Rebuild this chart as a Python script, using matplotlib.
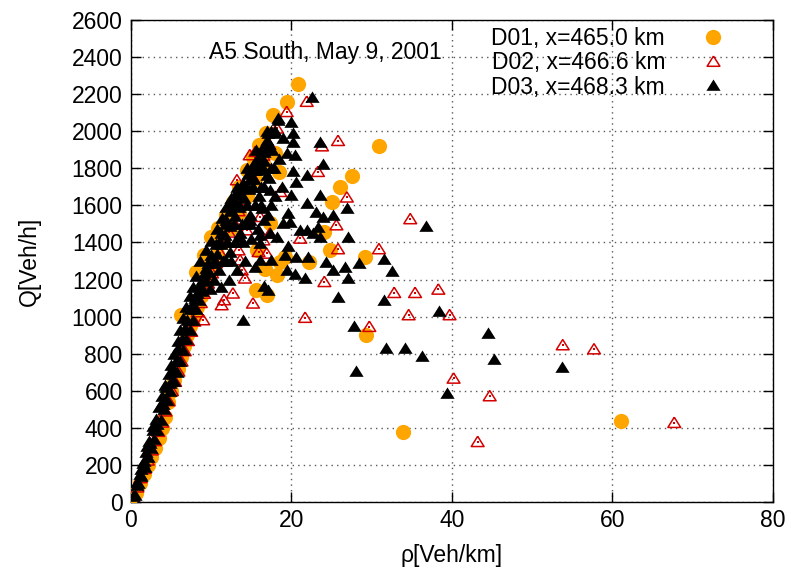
import matplotlib
matplotlib.use("Agg")
from matplotlib import pyplot as plt
from matplotlib.lines import Line2D

plt.rcParams["font.family"] = ["Liberation Sans", "DejaVu Sans"]

# D01, x=465.0 km  (orange circles)
d01_rho = [0.0, 0.6, 1.1, 1.6, 2.1, 2.5, 3.0, 3.5, 3.9, 4.2, 4.6, 5.0, 5.4, 5.8, 6.2, 6.6,
           7.0, 7.4, 7.8, 8.2, 8.7, 9.2, 9.7, 10.2, 10.7,
           6.2, 8.1, 9.1, 10.0, 10.8, 11.8, 12.7, 13.5, 14.4, 15.2, 15.9, 16.8, 17.7, 19.4, 20.8,
           11.5, 12.5, 13.5, 14.5, 15.5, 16.5, 18.0,
           18.4, 17.3, 15.7, 19.2, 18.6, 22.2, 16.7, 18.2, 15.6, 16.9, 24.0, 24.8, 29.2, 25.0,
           26.1, 27.6, 30.9, 29.3, 33.9, 61.1]
d01_q = [25, 50, 100, 150, 200, 244, 290, 343, 400, 460, 541, 600, 660, 720, 780, 840,
         900, 950, 1000, 1050, 1110, 1170, 1230, 1290, 1340,
         1010, 1240, 1330, 1430, 1480, 1550, 1620, 1700, 1790, 1860, 1926, 1989, 2088, 2160, 2255,
         1400, 1480, 1560, 1650, 1740, 1830, 1880,
         1782, 1503, 1359, 1323, 1296, 1296, 1255, 1224, 1143, 1116, 1458, 1359, 1323, 1620,
         1701, 1758, 1920, 901, 379, 439]

# D02, x=466.6 km  (open red triangles)
d02_rho = [0.3, 0.8, 1.2, 1.7, 2.1, 2.6, 3.0, 3.4, 3.9, 4.3, 4.7, 5.1, 5.5, 5.9, 6.3, 6.7,
           7.1, 7.5, 7.9, 8.3, 8.7, 9.1, 9.6, 10.1, 10.6, 11.1, 11.6, 12.2, 12.8, 13.4, 14.0,
           14.6, 15.2, 15.8, 16.5, 17.2,
           21.9, 19.4, 18.2, 25.8, 23.8, 15.5, 14.8, 13.2, 23.3, 18.6, 26.9, 16.1, 25.6, 34.8,
           17.3, 14.4, 16.5, 21.1, 16.9, 15.9, 13.4, 25.8, 30.9, 13.6, 13.8, 14.2, 24.1, 32.8,
           35.4, 38.3, 12.7, 11.6, 11.3, 15.2, 9.0, 21.7, 34.6, 39.7, 29.7, 40.2, 44.7, 43.2,
           53.8, 57.7, 67.7]
d02_q = [20, 80, 130, 180, 225, 280, 330, 380, 430, 490, 545, 600, 650, 705, 760, 815,
         870, 920, 975, 1025, 1075, 1125, 1180, 1235, 1290, 1345, 1400, 1455, 1510, 1570, 1630,
         1690, 1750, 1810, 1870, 1930,
         2160, 2105, 2016, 1949, 1920, 1890, 1872, 1737, 1782, 1674, 1644, 1539, 1494, 1527,
         1449, 1467, 1413, 1422, 1341, 1350, 1359, 1365, 1365, 1305, 1251, 1207, 1188, 1129,
         1129, 1147, 1126, 1090, 1063, 1072, 982, 995, 1009, 1009, 946, 667, 572, 325,
         847, 825, 428]

# D03, x=468.3 km  (filled black triangles)
d03_rho = [0.3, 0.7, 1.1, 1.5, 1.9, 2.3, 2.7, 3.1, 3.5, 3.9, 4.3, 4.7, 5.0, 5.4, 5.8, 6.1,
           6.5, 6.9, 7.3, 7.7, 8.1, 8.6, 9.3, 10.0, 10.7, 11.3, 11.9, 12.5, 13.2, 14.0, 14.6,
           15.2, 15.7, 16.3, 16.9, 17.5, 18.3,
           0.5, 0.9, 1.3, 1.7, 2.1, 2.5, 2.9, 3.3, 3.7, 4.1, 4.5, 4.9, 5.3, 5.7, 6.1, 6.5,
           6.9, 7.3, 7.7, 8.1, 8.5, 8.9, 9.3, 9.7, 10.2, 10.7, 11.2, 11.7, 12.3, 12.9, 13.5,
           14.1, 14.7, 15.3, 16.0, 16.6,
           0.8, 1.6, 2.4, 3.2, 4.0, 4.8, 5.6, 6.3, 7.0, 7.6, 8.2, 8.8, 9.4, 10.0, 10.6, 11.2,
           11.8, 12.4, 13.0, 13.6, 14.2, 14.8, 15.4, 16.0, 16.6, 17.2, 17.8,
           1.2, 2.0, 2.8, 3.6, 4.4, 5.2, 5.9, 6.7, 7.4, 8.0, 8.6, 9.1, 9.6,
           10.5, 11.5, 12.5, 11.0, 12.0, 13.0, 14.0, 11.8, 12.8, 13.8, 14.8,
           12.4, 13.4, 14.4, 15.4, 16.2, 13.2, 14.2, 15.2, 16.2, 14.4, 15.4, 16.4, 17.4,
           15.6, 16.6, 17.6, 17.0, 18.0,
           9.8, 10.4, 11.0, 11.8, 12.4, 13.0, 13.6, 14.2, 14.8, 15.4, 16.0, 16.6, 17.2, 17.8,
           18.4, 15.0, 15.8, 16.6, 17.4, 18.0, 18.8, 14.2, 13.2, 12.2, 11.2,
           22.5, 18.3, 20.0, 20.2, 17.1, 19.0, 20.2, 23.5, 16.5, 19.4, 20.4, 16.5, 23.9, 16.9,
           20.2, 21.9, 14.0, 20.6, 17.3, 20.0, 23.6, 13.0, 21.9, 23.1, 26.9, 16.3, 17.1, 25.2,
           19.6, 23.9, 19.0, 19.8, 11.9, 14.8, 23.3, 21.1, 21.9, 22.7, 23.6, 16.1, 18.2, 17.3,
           27.0, 36.8, 13.4, 16.1, 19.6, 19.2, 20.6, 22.1, 17.5, 16.1, 24.3, 15.5, 19.4, 20.4,
           21.7, 25.2, 26.7, 27.1, 28.4, 31.5, 32.5, 16.6, 17.1, 25.8, 31.5, 38.4, 14.0, 27.8,
           44.5, 31.8, 34.2, 36.3, 45.2, 28.1, 39.4, 53.7]
d03_q = [30, 90, 150, 210, 270, 330, 390, 450, 510, 570, 630, 690, 740, 800, 870, 930,
         990, 1050, 1110, 1160, 1220, 1300, 1360, 1410, 1470, 1530, 1590, 1640, 1680, 1710, 1770,
         1820, 1850, 1900, 1950, 2000, 2060,
         40, 100, 140, 190, 240, 290, 340, 390, 440, 500, 550, 600, 650, 700, 760, 820,
         880, 930, 980, 1040, 1090, 1140, 1190, 1240, 1290, 1340, 1390, 1440, 1490, 1540, 1590,
         1640, 1690, 1740, 1790, 1840,
         110, 220, 320, 420, 530, 640, 760, 880, 980, 1060, 1130, 1200, 1260, 1330, 1390, 1450,
         1520, 1570, 1620, 1660, 1700, 1740, 1790, 1840, 1890, 1930, 1990,
         180, 300, 410, 520, 620, 720, 830, 940, 1040, 1100, 1170, 1230, 1290,
         1300, 1300, 1300, 1400, 1400, 1400, 1400, 1500, 1500, 1500, 1500,
         1600, 1600, 1600, 1600, 1600, 1700, 1700, 1700, 1700, 1800, 1800, 1800, 1800,
         1900, 1900, 1900, 2000, 2000,
         1150, 1200, 1250, 1300, 1350, 1400, 1450, 1500, 1550, 1600, 1650, 1700, 1750, 1800,
         1850, 1420, 1470, 1520, 1600, 1650, 1700, 1300, 1250, 1200, 1160,
         2186, 2070, 2051, 1989, 1989, 1962, 1943, 1943, 1917, 1881, 1872, 1845, 1823, 1764,
         1787, 1764, 1719, 1728, 1683, 1656, 1656, 1656, 1611, 1566, 1588, 1584, 1548, 1548,
         1557, 1539, 1503, 1512, 1503, 1521, 1485, 1467, 1467, 1449, 1431, 1440, 1431, 1449,
         1428, 1489, 1431, 1395, 1380, 1332, 1323, 1323, 1305, 1305, 1293, 1268, 1251, 1228,
         1207, 1251, 1269, 1207, 1289, 1309, 1248, 1165, 1143, 1108, 1090, 1030, 982, 949,
         910, 829, 829, 788, 770, 708, 586, 726]

labels = ["D01, x=465.0 km", "D02, x=466.6 km", "D03, x=468.3 km"]
title_text = "A5 South, May 9, 2001"

ORANGE = "#ffa500"
RED = "#d40000"
FS = 16.5
# gnuplot-like triangle, a bit flatter than matplotlib's '^'
TRI = [(0, 0.85), (-1, -0.75), (1, -0.75), (0, 0.85)]


fig = plt.figure(figsize=(7.91, 5.76), dpi=100)
ax = fig.add_axes([0.1656, 0.1285, 0.8116, 0.8368])

ax.scatter(d01_rho, d01_q, s=120, marker="o", color=ORANGE, linewidths=0, zorder=3)
ax.scatter(d02_rho, d02_q, s=85, marker=TRI, facecolors="none", edgecolors=RED,
           linewidths=1.1, zorder=4)
ax.scatter(d02_rho, d02_q, s=2, marker="s", color=RED, linewidths=0, zorder=4)
ax.scatter(d03_rho, d03_q, s=105, marker=TRI, color="black", linewidths=0, zorder=5)

ax.set_xlim(0, 80)
ax.set_ylim(0, 2600)
ax.set_xticks(range(0, 81, 20))
ax.set_yticks(range(0, 2601, 200))
ax.tick_params(direction="in", length=7, width=1, top=True, right=True,
               labelsize=FS, pad=6)
ax.tick_params(axis="x", pad=5)
for sp in ax.spines.values():
    sp.set_linewidth(1.0)

ax.grid(True, color="0.35", linestyle=(0, (1, 3)), linewidth=1.0, zorder=0)
ax.set_axisbelow(True)

ax.set_xlabel("ρ[Veh/km]", fontsize=FS, labelpad=9)
ax.set_ylabel("Q[Veh/h]", fontsize=FS, labelpad=22)

ax.text(24.2, 2427, title_text, fontsize=FS, ha="center", va="center", zorder=6)

handles = [
    Line2D([], [], linestyle="none", marker="o", markersize=11, color=ORANGE,
           markeredgewidth=0),
    Line2D([], [], linestyle="none", marker=TRI, markersize=9.2, markerfacecolor="none",
           markeredgecolor=RED, markeredgewidth=1.1),
    Line2D([], [], linestyle="none", marker=TRI, markersize=10.2, color="black",
           markeredgewidth=0),
]
ax.legend(handles, labels, loc="upper right", bbox_to_anchor=(0.939, 1.004), frameon=False,
          markerfirst=False, fontsize=FS, labelspacing=0.05, handletextpad=1.6,
          handlelength=1.0, borderaxespad=0.0)

fig.savefig("out.png", dpi=100)
